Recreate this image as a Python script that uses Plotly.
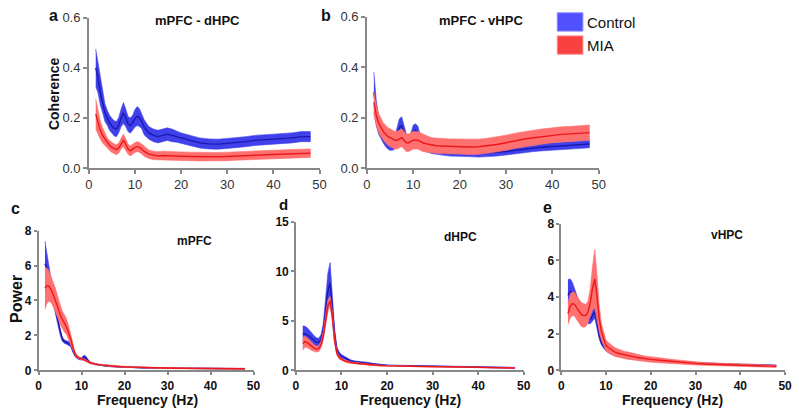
import plotly.graph_objects as go

W, H = 799, 415

# frequency grid (Hz)
freq = [1.5, 2, 2.5, 3, 3.5, 4, 4.5, 5, 5.5, 6, 6.5, 7, 7.5, 8, 8.5, 9, 9.5, 10, 10.5, 11, 11.5, 12,
        13, 14, 15, 16, 17, 18, 19, 20,
        22, 24, 26, 28, 30, 32, 34, 36, 38, 40, 42, 44, 46, 48]

# a: mPFC - dHPC coherence
coh_dhpc_ctrl = [0.40, 0.36, 0.30, 0.26, 0.22, 0.20, 0.18, 0.168, 0.158, 0.155, 0.172, 0.20, 0.219, 0.20, 0.175, 0.169, 0.18, 0.198, 0.207, 0.20, 0.185, 0.162,
                 0.14, 0.13, 0.125, 0.13, 0.135, 0.13, 0.125, 0.12,
                 0.11, 0.10, 0.096, 0.095, 0.098, 0.10, 0.105, 0.11, 0.112, 0.115, 0.118, 0.12, 0.125, 0.125]
coh_dhpc_ctrl_sem = [0.075, 0.06, 0.05, 0.04, 0.035, 0.03, 0.03, 0.03, 0.03, 0.03, 0.03, 0.035, 0.042, 0.035, 0.03, 0.03, 0.03, 0.035, 0.038, 0.035, 0.03, 0.03,
                     0.025, 0.025, 0.025, 0.025, 0.025, 0.025, 0.022, 0.02,
                     0.02, 0.02, 0.02, 0.02, 0.02, 0.02, 0.02, 0.02, 0.02, 0.02, 0.02, 0.02, 0.02, 0.02]
coh_dhpc_mia = [0.215, 0.18, 0.15, 0.13, 0.115, 0.10, 0.09, 0.082, 0.076, 0.073, 0.08, 0.098, 0.11, 0.095, 0.075, 0.068, 0.075, 0.082, 0.085, 0.082, 0.075, 0.066,
                0.055, 0.05, 0.048, 0.05, 0.05, 0.048, 0.047, 0.047,
                0.046, 0.045, 0.044, 0.045, 0.046, 0.048, 0.05, 0.052, 0.053, 0.055, 0.056, 0.057, 0.058, 0.059]
coh_dhpc_mia_sem = [0.06, 0.045, 0.035, 0.03, 0.025, 0.02, 0.02, 0.02, 0.02, 0.02, 0.02, 0.022, 0.025, 0.022, 0.02, 0.02, 0.02, 0.02, 0.02, 0.02, 0.02, 0.02,
                    0.017, 0.017, 0.017, 0.017, 0.017, 0.017, 0.017, 0.017,
                    0.017, 0.017, 0.017, 0.017, 0.017, 0.017, 0.017, 0.017, 0.017, 0.017, 0.017, 0.017, 0.017, 0.017]

# b: mPFC - vHPC coherence
coh_vhpc_ctrl = [0.30, 0.22, 0.17, 0.14, 0.12, 0.105, 0.095, 0.09, 0.09, 0.10, 0.13, 0.16, 0.168, 0.14, 0.11, 0.10, 0.12, 0.145, 0.15, 0.14, 0.11, 0.09,
                 0.078, 0.072, 0.068, 0.066, 0.064, 0.062, 0.06, 0.06,
                 0.06, 0.058, 0.06, 0.062, 0.065, 0.07, 0.075, 0.08, 0.083, 0.085, 0.088, 0.09, 0.093, 0.095]
coh_vhpc_ctrl_sem = [0.08, 0.05, 0.035, 0.025, 0.02, 0.02, 0.02, 0.02, 0.02, 0.025, 0.03, 0.035, 0.035, 0.03, 0.025, 0.02, 0.02, 0.025, 0.025, 0.025, 0.02, 0.02,
                     0.015, 0.015, 0.015, 0.015, 0.015, 0.015, 0.015, 0.015,
                     0.015, 0.015, 0.015, 0.015, 0.015, 0.015, 0.015, 0.015, 0.015, 0.015, 0.015, 0.015, 0.015, 0.015]
coh_vhpc_mia = [0.26, 0.21, 0.18, 0.16, 0.145, 0.135, 0.125, 0.12, 0.115, 0.11, 0.11, 0.115, 0.12, 0.11, 0.10, 0.10, 0.105, 0.11, 0.11, 0.11, 0.105, 0.10,
                0.095, 0.09, 0.088, 0.087, 0.086, 0.085, 0.085, 0.085,
                0.083, 0.084, 0.088, 0.093, 0.10, 0.108, 0.115, 0.12, 0.125, 0.13, 0.133, 0.135, 0.138, 0.14]
coh_vhpc_mia_sem = [0.045, 0.04, 0.038, 0.036, 0.035, 0.035, 0.035, 0.035, 0.035, 0.035, 0.035, 0.035, 0.035, 0.035, 0.035, 0.035, 0.035, 0.035, 0.035, 0.035, 0.035, 0.035,
                    0.032, 0.03, 0.03, 0.03, 0.03, 0.03, 0.03, 0.03,
                    0.03, 0.03, 0.03, 0.03, 0.03, 0.03, 0.03, 0.03, 0.03, 0.03, 0.03, 0.03, 0.03, 0.03]

# c: mPFC power
pow_mpfc_ctrl = [6.1, 5.8, 5.2, 4.7, 4.1, 3.4, 2.8, 2.2, 1.8, 1.65, 1.6, 1.55, 1.45, 1.1, 0.85, 0.72, 0.66, 0.65, 0.75, 0.72, 0.55, 0.45,
                 0.36, 0.31, 0.28, 0.25, 0.23, 0.21, 0.2, 0.19,
                 0.17, 0.15, 0.14, 0.13, 0.12, 0.115, 0.11, 0.105, 0.1, 0.1, 0.095, 0.095, 0.09, 0.09]
pow_mpfc_ctrl_sem = [1.3, 0.8, 0.5, 0.4, 0.3, 0.25, 0.2, 0.15, 0.12, 0.1, 0.1, 0.1, 0.1, 0.08, 0.06, 0.05, 0.05, 0.06, 0.12, 0.1, 0.06, 0.04,
                     0.03, 0.03, 0.03, 0.03, 0.03, 0.03, 0.03, 0.03,
                     0.02, 0.02, 0.02, 0.02, 0.02, 0.02, 0.02, 0.02, 0.02, 0.02, 0.02, 0.02, 0.02, 0.02]
pow_mpfc_mia = [4.7, 4.85, 4.8, 4.6, 4.3, 4.0, 3.6, 3.2, 2.9, 2.7, 2.5, 2.2, 1.8, 1.3, 0.95, 0.78, 0.7, 0.66, 0.62, 0.58, 0.5, 0.43,
                0.37, 0.33, 0.3, 0.27, 0.25, 0.23, 0.21, 0.2,
                0.18, 0.16, 0.15, 0.14, 0.13, 0.12, 0.115, 0.11, 0.105, 0.1, 0.1, 0.095, 0.095, 0.09]
pow_mpfc_mia_sem = [1.2, 1.0, 0.85, 0.75, 0.7, 0.65, 0.6, 0.55, 0.5, 0.5, 0.45, 0.35, 0.25, 0.15, 0.1, 0.08, 0.06, 0.06, 0.05, 0.05, 0.05, 0.05,
                    0.04, 0.04, 0.04, 0.04, 0.04, 0.04, 0.04, 0.04,
                    0.03, 0.03, 0.03, 0.03, 0.03, 0.03, 0.03, 0.03, 0.03, 0.03, 0.03, 0.03, 0.03, 0.03]

# d: dHPC power
pow_dhpc_ctrl = [3.7, 3.7, 3.6, 3.4, 3.2, 3.0, 2.85, 2.8, 3.1, 4.0, 6.0, 8.0, 8.8, 6.5, 3.5, 2.0, 1.6, 1.4, 1.3, 1.2, 1.1, 0.95,
                 0.85, 0.8, 0.78, 0.72, 0.62, 0.56, 0.52, 0.5,
                 0.48, 0.46, 0.44, 0.42, 0.4, 0.39, 0.38, 0.37, 0.36, 0.34, 0.32, 0.3, 0.28, 0.26]
pow_dhpc_ctrl_sem = [0.8, 0.75, 0.7, 0.6, 0.55, 0.5, 0.45, 0.45, 0.5, 0.7, 1.2, 1.8, 2.1, 1.5, 0.7, 0.35, 0.25, 0.2, 0.18, 0.16, 0.15, 0.12,
                     0.1, 0.1, 0.1, 0.08, 0.07, 0.06, 0.06, 0.05,
                     0.05, 0.05, 0.05, 0.05, 0.05, 0.05, 0.05, 0.05, 0.05, 0.05, 0.05, 0.05, 0.05, 0.05]
pow_dhpc_mia = [2.7, 2.9, 2.8, 2.6, 2.4, 2.25, 2.15, 2.2, 2.6, 3.5, 5.0, 6.5, 7.0, 5.5, 3.0, 1.7, 1.3, 1.1, 1.0, 0.9, 0.85, 0.78,
                0.72, 0.67, 0.62, 0.58, 0.53, 0.5, 0.47, 0.45,
                0.42, 0.4, 0.39, 0.38, 0.37, 0.36, 0.35, 0.34, 0.33, 0.32, 0.3, 0.28, 0.26, 0.24]
pow_dhpc_mia_sem = [0.65, 0.55, 0.5, 0.45, 0.4, 0.35, 0.3, 0.3, 0.35, 0.45, 0.6, 0.6, 0.5, 0.5, 0.35, 0.2, 0.15, 0.12, 0.1, 0.1, 0.1, 0.08,
                    0.08, 0.07, 0.06, 0.06, 0.05, 0.05, 0.05, 0.05,
                    0.04, 0.04, 0.04, 0.04, 0.04, 0.04, 0.04, 0.04, 0.04, 0.04, 0.04, 0.04, 0.04, 0.04]

# e: vHPC power
pow_vhpc_ctrl = [4.1, 4.3, 4.3, 4.1, 3.8, 3.5, 3.2, 3.0, 2.85, 2.75, 2.8, 3.0, 3.2, 2.6, 1.9, 1.5, 1.3, 1.15, 1.05, 0.98, 0.92, 0.88,
                 0.8, 0.75, 0.7, 0.66, 0.62, 0.6, 0.57, 0.55,
                 0.5, 0.47, 0.44, 0.41, 0.39, 0.37, 0.35, 0.33, 0.32, 0.3, 0.29, 0.28, 0.27, 0.26]
pow_vhpc_ctrl_sem = [0.85, 0.7, 0.5, 0.4, 0.3, 0.25, 0.2, 0.2, 0.2, 0.2, 0.25, 0.3, 0.35, 0.3, 0.2, 0.12, 0.1, 0.1, 0.1, 0.09, 0.08, 0.08,
                     0.07, 0.07, 0.06, 0.06, 0.06, 0.05, 0.05, 0.05,
                     0.05, 0.05, 0.05, 0.04, 0.04, 0.04, 0.04, 0.04, 0.04, 0.04, 0.04, 0.04, 0.04, 0.04]
pow_vhpc_mia = [3.1, 3.5, 3.65, 3.6, 3.4, 3.2, 3.05, 3.0, 3.0, 3.2, 3.7, 4.5, 5.0, 4.0, 2.8, 2.1, 1.7, 1.35, 1.25, 1.15, 1.08, 1.0,
                0.92, 0.85, 0.8, 0.75, 0.7, 0.66, 0.62, 0.6,
                0.55, 0.5, 0.45, 0.42, 0.38, 0.35, 0.33, 0.31, 0.29, 0.27, 0.26, 0.25, 0.23, 0.22]
pow_vhpc_mia_sem = [0.6, 0.65, 0.65, 0.65, 0.65, 0.65, 0.65, 0.65, 0.6, 0.6, 0.8, 1.2, 1.6, 1.2, 0.7, 0.45, 0.35, 0.3, 0.28, 0.26, 0.25, 0.24,
                    0.22, 0.2, 0.2, 0.18, 0.17, 0.16, 0.15, 0.15,
                    0.14, 0.12, 0.11, 0.1, 0.09, 0.08, 0.08, 0.07, 0.07, 0.06, 0.06, 0.06, 0.06, 0.06]

BLUE_FILL, BLUE_LINE = "rgb(65,65,235)", "rgb(25,25,175)"
RED_FILL, RED_LINE = "rgb(255,112,112)", "rgb(235,25,25)"


def px_x(x):
    return x / W


def px_y(y):
    return 1 - y / H


fig = go.Figure()

panels = [
    # axis suffix, x px span, y px span, y range, ticks, bold ticks, data
    ("", (86, 320), (11, 167), [0, 0.6], [0, 0.2, 0.4, 0.6], False,
     coh_dhpc_ctrl, coh_dhpc_ctrl_sem, coh_dhpc_mia, coh_dhpc_mia_sem),
    ("2", (368, 603), (10, 167), [0, 0.6], [0, 0.2, 0.4, 0.6], False,
     coh_vhpc_ctrl, coh_vhpc_ctrl_sem, coh_vhpc_mia, coh_vhpc_mia_sem),
    ("3", (35, 253), (232, 377), [0, 8], [0, 2, 4, 6, 8], True,
     pow_mpfc_ctrl, pow_mpfc_ctrl_sem, pow_mpfc_mia, pow_mpfc_mia_sem),
    ("4", (296, 527), (223, 377), [0, 15], [0, 5, 10, 15], True,
     pow_dhpc_ctrl, pow_dhpc_ctrl_sem, pow_dhpc_mia, pow_dhpc_mia_sem),
    ("5", (565, 792), (225, 377), [0, 8], [0, 2, 4, 6, 8], True,
     pow_vhpc_ctrl, pow_vhpc_ctrl_sem, pow_vhpc_mia, pow_vhpc_mia_sem),
]

for suf, (x0, x1), (y0, y1), yr, yt, bold, cm, cs, mm, ms in panels:
    xa, ya = "x" + suf, "y" + suf
    for mean, sem, fc, lc in [(cm, cs, BLUE_FILL, BLUE_LINE), (mm, ms, RED_FILL, RED_LINE)]:
        upper = [m + s for m, s in zip(mean, sem)]
        lower = [m - s for m, s in zip(mean, sem)]
        fig.add_trace(go.Scatter(x=freq + freq[::-1], y=upper + lower[::-1], fill="toself",
                                 fillcolor=fc, line=dict(width=0.6, color=fc), mode="lines",
                                 xaxis=xa, yaxis=ya, showlegend=False, hoverinfo="skip"))
        fig.add_trace(go.Scatter(x=freq, y=mean, mode="lines", line=dict(color=lc, width=1.4),
                                 xaxis=xa, yaxis=ya, showlegend=False))
    tf = dict(family="Liberation Sans, Arial", size=12 if bold else 13,
              color="#111" if bold else "#333", weight="bold" if bold else "normal")
    common = dict(showline=True, linecolor="#888", linewidth=1.5, ticks="outside",
                  ticklen=3 if bold else 4, tickcolor="#888", tickwidth=1.5,
                  showgrid=False, zeroline=False, tickfont=tf)
    fig.layout["xaxis" + suf] = dict(domain=[px_x(x0), px_x(x1)], range=[0, 50],
                                     tickvals=[0, 10, 20, 30, 40, 50], anchor=ya, **common)
    fig.layout["yaxis" + suf] = dict(domain=[px_y(y1), px_y(y0)], range=yr, tickvals=yt,
                                     tickformat=".1f" if not bold else "d", anchor=xa, **common)

ann = []


def label(text, x, y, size, bold=True, angle=0, xanchor="center", color="#111"):
    ann.append(dict(text=text, x=px_x(x), y=px_y(y), xref="paper", yref="paper", showarrow=False,
                    xanchor=xanchor, yanchor="middle", textangle=angle,
                    font=dict(family="Liberation Sans, Arial", size=size, color=color,
                              weight="bold" if bold else "normal")))


label("a", 50, 9, 16)
label("b", 327, 9, 16)
label("c", 12, 209, 16)
label("d", 283, 205, 15)
label("e", 551, 208, 16)
label("mPFC - dHPC", 196, 14, 13)
label("mPFC - vHPC", 484, 14, 13)
label("mPFC", 193, 243, 12)
label("dHPC", 463, 239, 12)
label("vHPC", 733, 237, 12)
label("Coherence", 50, 90, 14, angle=-90)
label("Power", 12, 303, 16, angle=-90)
label("Frequency (Hz)", 145, 408, 14)
label("Frequency (Hz)", 412, 408, 14)
label("Frequency (Hz)", 678, 408, 14)
label("Control", 589, 16, 15, bold=False, xanchor="left")
label("MIA", 589, 40, 15, bold=False, xanchor="left")

shapes = [
    dict(type="rect", xref="paper", yref="paper", x0=px_x(561), x1=px_x(587), y0=px_y(25), y1=px_y(6),
         fillcolor="rgb(80,80,255)", line=dict(color="rgb(140,140,255)", width=1)),
    dict(type="rect", xref="paper", yref="paper", x0=px_x(561), x1=px_x(587), y0=px_y(49), y1=px_y(30),
         fillcolor="rgb(250,65,65)", line=dict(color="rgb(255,140,140)", width=1)),
]

fig.update_layout(width=W, height=H, margin=dict(l=0, r=0, t=0, b=0), plot_bgcolor="white",
                  paper_bgcolor="white", annotations=ann, shapes=shapes, showlegend=False)

# pin the figure to the page corner: no body margin, no extra line box below the plot div
page_fix = ("document.documentElement.style.margin='0';document.body.style.margin='0';"
            "document.body.style.overflow='hidden';document.documentElement.style.overflow='hidden';"
            "var d=document.getElementById('{plot_id}');d.style.display='block';"
            "d.parentElement.style.height='415px';d.parentElement.style.overflow='hidden';")
fig.write_html("out.html", config={"displayModeBar": False}, post_script=page_fix)
